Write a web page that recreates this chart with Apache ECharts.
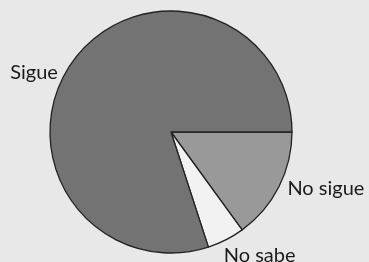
<!DOCTYPE html>
<html><head><meta charset="utf-8">
<script src="https://cdn.jsdelivr.net/npm/echarts@6/dist/echarts.min.js"></script>
<style>html,body{margin:0;padding:0;background:#e8e8e8;}#c{width:369px;height:262px;}</style>
</head><body><div id="c"></div>
<script>
const categories = ['No sigue', 'No sabe', 'Sigue'];
const values = [15, 5, 80];
const colors = ['#999999', '#f2f2f2', '#737373'];
const labelOffsets = [[-4, 0], [-13, 12], [-3, 14]];

const chart = echarts.init(document.getElementById('c'), null, {renderer: 'canvas'});
chart.setOption({
  backgroundColor: '#e8e8e8',
  animation: false,
  series: [{
    type: 'pie',
    center: [171, 132],
    radius: 121,
    startAngle: 0,
    clockwise: true,
    avoidLabelOverlap: false,
    data: categories.map((c, i) => ({name: c, value: values[i], itemStyle: {color: colors[i]}, label: {offset: labelOffsets[i]}})),
    itemStyle: {borderColor: '#222', borderWidth: 1.3},
    label: {show: true, position: 'outside', formatter: '{b}', fontFamily: 'Lato', fontSize: 20, color: '#1a1a1a'},
    labelLine: {show: false, length: 4, length2: 4},
    emphasis: {disabled: true}
  }]
});
</script></body></html>
